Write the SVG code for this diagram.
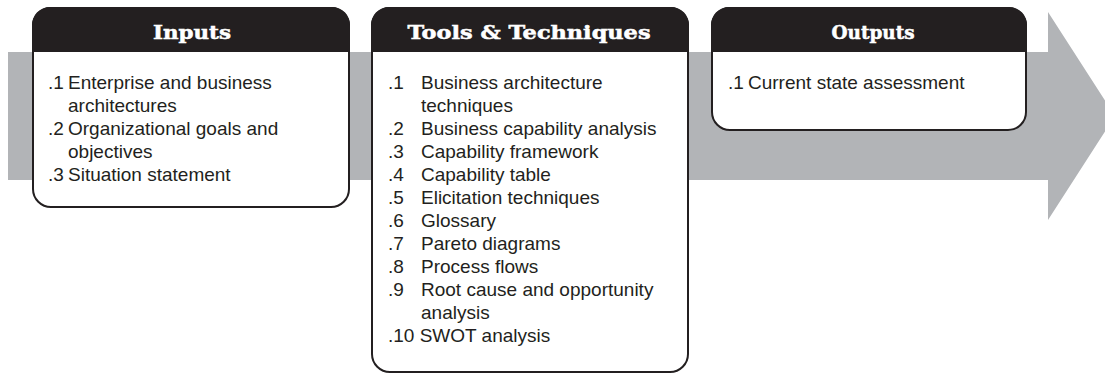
<svg xmlns="http://www.w3.org/2000/svg" width="1105" height="375" viewBox="0 0 1105 375">
<style>
.box{fill:#ffffff;stroke:#231f20;stroke-width:2}
.hdr{fill:#231f20}
.ttl{font-family:"DejaVu Serif",serif;font-weight:bold;font-size:18px;fill:#ffffff;stroke:#ffffff;stroke-width:0.5;text-anchor:middle}
.t{font-family:"Liberation Sans",Arial,sans-serif;font-size:19px;fill:#231f20}
</style>
<g id="flow-arrow">
<polygon points="8,52 1048,52 1048,12 1115,116 1048,220 1048,180 8,180" fill="#b2b4b7"/>
</g>
<g id="connectors"></g>
<g id="inputs">
<rect class="box" x="33" y="8" width="316" height="199" rx="18" ry="18"/>
<path class="hdr" d="M32,52 V26 A18,18 0 0 1 50,7 H332 A18,18 0 0 1 350,26 V52 Z"/>
<text class="ttl" x="192" y="39" textLength="78" lengthAdjust="spacingAndGlyphs">Inputs</text>
<text class="t" x="48" y="89">.1</text><text class="t" x="68" y="89">Enterprise and business</text>
<text class="t" x="68" y="112">architectures</text>
<text class="t" x="48" y="135">.2</text><text class="t" x="68" y="135">Organizational goals and</text>
<text class="t" x="68" y="158">objectives</text>
<text class="t" x="48" y="181">.3</text><text class="t" x="68" y="181">Situation statement</text>
</g>
<g id="tools">
<rect class="box" x="372" y="8" width="316" height="364" rx="18" ry="18"/>
<path class="hdr" d="M371,52 V26 A18,18 0 0 1 389,7 H671 A18,18 0 0 1 689,26 V52 Z"/>
<text class="ttl" x="529" y="39" textLength="243" lengthAdjust="spacingAndGlyphs">Tools &amp; Techniques</text>
<text class="t" x="388" y="89">.1</text><text class="t" x="421" y="89">Business architecture</text>
<text class="t" x="421" y="112">techniques</text>
<text class="t" x="388" y="135">.2</text><text class="t" x="421" y="135">Business capability analysis</text>
<text class="t" x="388" y="158">.3</text><text class="t" x="421" y="158">Capability framework</text>
<text class="t" x="388" y="181">.4</text><text class="t" x="421" y="181">Capability table</text>
<text class="t" x="388" y="204">.5</text><text class="t" x="421" y="204">Elicitation techniques</text>
<text class="t" x="388" y="227">.6</text><text class="t" x="421" y="227">Glossary</text>
<text class="t" x="388" y="250">.7</text><text class="t" x="421" y="250">Pareto diagrams</text>
<text class="t" x="388" y="273">.8</text><text class="t" x="421" y="273">Process flows</text>
<text class="t" x="388" y="296">.9</text><text class="t" x="421" y="296">Root cause and opportunity</text>
<text class="t" x="421" y="319">analysis</text>
<text class="t" x="388" y="342">.10 SWOT analysis</text>
</g>
<g id="outputs">
<rect class="box" x="712" y="8" width="314" height="122" rx="18" ry="18"/>
<path class="hdr" d="M711,52 V26 A18,18 0 0 1 729,7 H1009 A18,18 0 0 1 1027,26 V52 Z"/>
<text class="ttl" x="873" y="39" textLength="83" lengthAdjust="spacingAndGlyphs">Outputs</text>
<text class="t" x="728" y="89">.1</text><text class="t" x="748" y="89">Current state assessment</text>
</g>
</svg>
